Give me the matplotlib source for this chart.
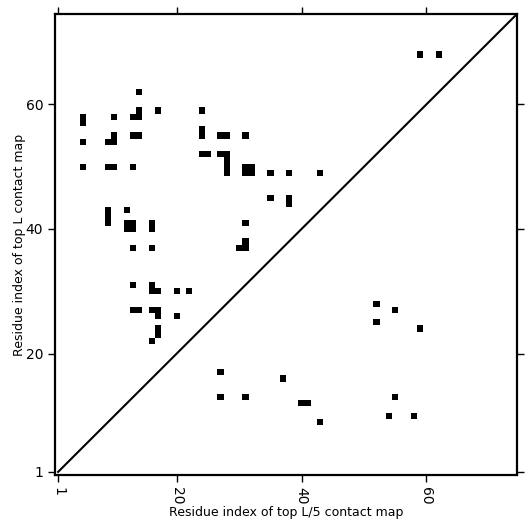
import numpy as np
import matplotlib
matplotlib.use("Agg")
import matplotlib.pyplot as plt
from matplotlib.colors import ListedColormap

# Sequence length
L = 74

# Contact cells (0-based residue indices): x = top L/5 map index, y = top L map index
contact_x = [13, 4, 4, 9, 13, 13, 12, 16, 23, 4, 8, 9, 9, 12, 13, 23, 23, 26, 27, 30,
             23, 24, 26, 27, 27, 27, 27, 30, 31, 30, 31, 34, 37, 42, 4, 8, 9, 12,
             34, 37, 37, 8, 8, 8, 11, 11, 12, 11, 12, 15, 15, 30, 12, 15, 30, 30, 29,
             12, 15, 15, 16, 19, 21, 12, 13, 15, 16, 16, 19, 16, 16, 15,
             26, 36, 26, 30, 39, 40, 42, 54, 53, 57, 51, 54, 51, 58, 58, 61]
contact_y = [61, 57, 56, 57, 58, 57, 57, 58, 58, 53, 53, 53, 54, 54, 54, 55, 54, 54, 54, 54,
             51, 51, 51, 51, 50, 49, 48, 49, 49, 48, 48, 48, 48, 48, 49, 49, 49, 49,
             44, 44, 43, 42, 41, 40, 42, 40, 40, 39, 39, 40, 39, 40, 36, 36, 37, 36, 36,
             30, 30, 29, 29, 29, 29, 26, 26, 26, 26, 25, 25, 23, 22, 21,
             16, 15, 12, 12, 11, 11, 8, 12, 9, 9, 27, 26, 24, 23, 67, 67]

tick_pos = [0, 19, 39, 59]
tick_labels = ['1', '20', '40', '60']

mat = np.zeros((L, L))
for x, y in zip(contact_x, contact_y):
    mat[y, x] = 1

fig = plt.figure(figsize=(5.31, 5.31), dpi=100)
ax = fig.add_axes([55/531, 1 - 475/531, 462/531, 461/531])
ax.imshow(mat, cmap=ListedColormap(['white', 'black']), origin='lower',
          interpolation='nearest', extent=(-0.5, L - 0.5, -0.5, L - 0.5), aspect='auto')
ax.plot([0, L], [0, L], color='black', linewidth=1.5)
ax.set_xlim(-0.5, L - 0.5)
ax.set_ylim(-0.5, L - 0.5)

ax.set_xticks(tick_pos)
ax.set_xticklabels(tick_labels, rotation=270)
ax.set_yticks(tick_pos)
ax.set_yticklabels(tick_labels)
ax.tick_params(top=True, right=True, direction='out', length=5, width=1, labelsize=10)
for s in ax.spines.values():
    s.set_linewidth(1.6)

ax.set_xlabel('Residue index of top L/5 contact map', fontsize=9, labelpad=1)
ax.set_ylabel('Residue index of top L contact map', fontsize=9, labelpad=0)

fig.savefig('out.png', dpi=100)
